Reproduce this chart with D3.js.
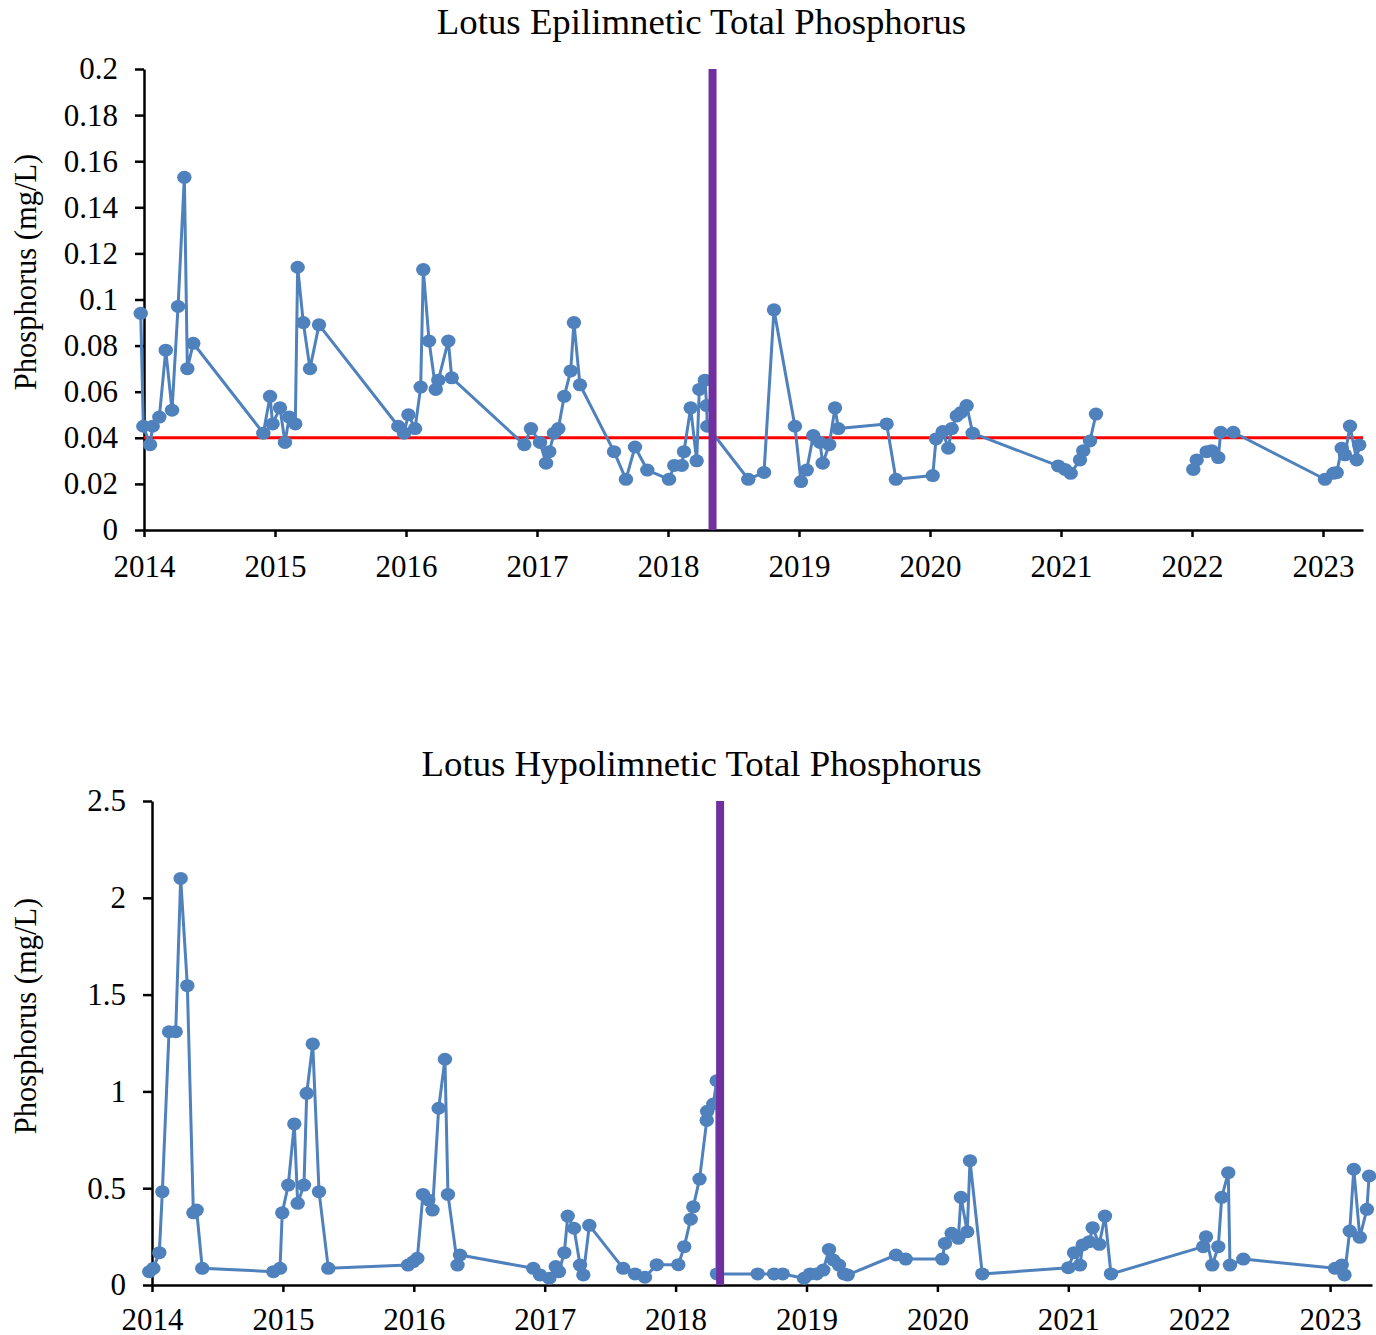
<!DOCTYPE html>
<html>
<head>
<meta charset="utf-8">
<script src="https://cdn.jsdelivr.net/npm/d3@7"></script>
<style>
  body { margin: 0; background: #fff; }
  svg text { font-family: "Liberation Serif", "Times New Roman", serif; fill: #000; }
</style>
</head>
<body>
<svg id="chart" width="1376" height="1335"></svg>
<script>
// Sample dates are decimal years; a null value breaks the line (no samples).
const epiDates = [
  2013.975, 2013.995, 2014.046, 2014.066, 2014.117, 2014.166, 2014.214, 2014.260, 2014.308, 2014.331, 2014.376,
  2014.911, 2014.962, 2014.982, 2015.038, 2015.076, 2015.109, 2015.155, 2015.173, 2015.216, 2015.267, 2015.336,
  2015.941, 2015.985, 2016.018, 2016.069, 2016.112, 2016.132, 2016.176, 2016.227, 2016.247, 2016.323, 2016.349,
  2016.903, 2016.954, 2017.023, 2017.069, 2017.094, 2017.130, 2017.163, 2017.208, 2017.257, 2017.282, 2017.328,
  2017.588, 2017.679, 2017.748, 2017.842, 2018.008, 2018.048, 2018.105, 2018.122, 2018.173, 2018.219, 2018.239,
  2018.282, 2018.295, 2018.300,
  2018.613, 2018.733, 2018.809, 2018.969, 2019.015, 2019.059, 2019.109, 2019.160, 2019.181, 2019.231, 2019.275, 2019.300,
  2019.669, 2019.740, 2020.021, 2020.046, 2020.097, 2020.140, 2020.166, 2020.204, 2020.237, 2020.280, 2020.326,
  2020.979, 2021.031, 2021.074, 2021.145, 2021.170, 2021.221, 2021.267,
  2021.600,
  2022.010, 2022.036, 2022.112, 2022.150, 2022.201, 2022.219, 2022.315,
  2023.015, 2023.079, 2023.105, 2023.143, 2023.168, 2023.206, 2023.257, 2023.277
];
const epiTP = [
  0.094, 0.045, 0.037, 0.045, 0.049, 0.078, 0.052, 0.097, 0.153, 0.070, 0.081,
  0.042, 0.058, 0.046, 0.053, 0.038, 0.049, 0.046, 0.114, 0.090, 0.070, 0.089,
  0.045, 0.042, 0.050, 0.044, 0.062, 0.113, 0.082, 0.061, 0.065, 0.082, 0.066,
  0.037, 0.044, 0.038, 0.029, 0.034, 0.042, 0.044, 0.058, 0.069, 0.090, 0.063,
  0.034, 0.022, 0.036, 0.026, 0.022, 0.028, 0.028, 0.034, 0.053, 0.030, 0.061,
  0.065, 0.054, 0.045,
  0.022, 0.025, 0.0955, 0.045, 0.021, 0.026, 0.041, 0.038, 0.029, 0.037, 0.053, 0.044,
  0.046, 0.022, 0.0236, 0.0395, 0.0427, 0.0355, 0.044, 0.0495, 0.051, 0.054, 0.042,
  0.0278, 0.0263, 0.0246, 0.0304, 0.0344, 0.0386, 0.0503,
  null,
  0.0263, 0.0304, 0.034, 0.0344, 0.0314, 0.0424, 0.0424,
  0.022, 0.0246, 0.0249, 0.0355, 0.0326, 0.0451, 0.0304, 0.0369
];

const hypoDates = [
  2013.979, 2014.010, 2014.056, 2014.079, 2014.130, 2014.181, 2014.219, 2014.270, 2014.316, 2014.341, 2014.384,
  2014.927, 2014.978, 2014.995, 2015.041, 2015.087, 2015.113, 2015.161, 2015.182, 2015.228, 2015.276, 2015.347,
  2015.956, 2015.996, 2016.027, 2016.070, 2016.111, 2016.143, 2016.190, 2016.238, 2016.261, 2016.334, 2016.353,
  2016.913, 2016.964, 2017.035, 2017.084, 2017.109, 2017.150, 2017.176, 2017.224, 2017.270, 2017.295, 2017.341,
  2017.600, 2017.690, 2017.766, 2017.856, 2018.021, 2018.066, 2018.115, 2018.135, 2018.183, 2018.238, 2018.241,
  2018.288, 2018.314, 2018.316,
  2018.627, 2018.752, 2018.818, 2018.981, 2019.027, 2019.078, 2019.128, 2019.172, 2019.205, 2019.248, 2019.287, 2019.315,
  2019.684, 2019.758, 2020.037, 2020.058, 2020.109, 2020.160, 2020.180, 2020.228, 2020.249, 2020.343,
  2021.000, 2021.044, 2021.089, 2021.110, 2021.160, 2021.186, 2021.237, 2021.280, 2021.326,
  2022.031, 2022.052, 2022.100, 2022.146, 2022.172, 2022.222, 2022.235, 2022.337,
  2023.038, 2023.089, 2023.110, 2023.150, 2023.181, 2023.227, 2023.281, 2023.298
];
const hypoTP = [
  0.069, 0.086, 0.167, 0.482, 1.308, 1.308, 2.10, 1.546, 0.373, 0.387, 0.086,
  0.069, 0.086, 0.373, 0.516, 0.832, 0.422, 0.516, 0.990, 1.245, 0.482, 0.086,
  0.103, 0.120, 0.138, 0.468, 0.439, 0.387, 0.913, 1.166, 0.468, 0.103, 0.155,
  0.086, 0.052, 0.035, 0.095, 0.069, 0.167, 0.356, 0.293, 0.103, 0.052, 0.308,
  0.086, 0.057, 0.040, 0.105, 0.105, 0.198, 0.340, 0.404, 0.547, 0.850, 0.897,
  0.935, 1.055, 0.057,
  0.057, 0.057, 0.057, 0.035, 0.057, 0.057, 0.077, 0.184, 0.129, 0.103, 0.057, 0.052,
  0.155, 0.134, 0.134, 0.215, 0.267, 0.241, 0.453, 0.275, 0.642, 0.057,
  0.089, 0.167, 0.103, 0.207, 0.224, 0.296, 0.210, 0.356, 0.057,
  0.198, 0.249, 0.103, 0.198, 0.453, 0.580, 0.103, 0.134,
  0.086, 0.103, 0.052, 0.279, 0.598, 0.246, 0.391, 0.563
];

const yearTicks = [2014, 2015, 2016, 2017, 2018, 2019, 2020, 2021, 2022, 2023];
const epiTicks = [0, 0.02, 0.04, 0.06, 0.08, 0.1, 0.12, 0.14, 0.16, 0.18, 0.2];
const hypoTicks = [0, 0.5, 1, 1.5, 2, 2.5];
const epiCriterion = 0.04;     // red reference line, top panel only
const treatmentDate = 2018.34; // purple marker line

const BLUE = "#4F81BD";
const PURPLE = "#7030A0";

const svg = d3.select("#chart");

function drawPanel(p) {
  const x = d3.scaleLinear().domain([2014, p.xMax]).range([p.left, p.right]);
  const y = d3.scaleLinear().domain([0, p.yMax]).range([p.bottom, p.top]);
  const g = svg.append("g");
  const fmt = v => String(+v.toFixed(2));

  g.append("text")
    .attr("x", 701.5).attr("y", p.titleY)
    .attr("text-anchor", "middle")
    .attr("font-size", 36.8)
    .text(p.title);

  g.append("text")
    .attr("transform", `translate(36,${p.labelY}) rotate(-90)`)
    .attr("text-anchor", "middle")
    .attr("font-size", 30.5)
    .text("Phosphorus (mg/L)");

  const yAxis = g.append("g")
    .attr("transform", `translate(${p.left},0)`)
    .call(d3.axisLeft(y).tickValues(p.yTicks).tickFormat(fmt).tickSize(9).tickSizeOuter(0).tickPadding(17));

  const xAxis = g.append("g")
    .attr("transform", `translate(0,${p.bottom})`)
    .call(d3.axisBottom(x).tickValues(yearTicks).tickFormat(d3.format("d")).tickSize(7).tickSizeOuter(0).tickPadding(p.xPad));

  [yAxis, xAxis].forEach(a => {
    a.attr("font-family", null).attr("font-size", 31);
    a.selectAll("path, line").attr("stroke", "#000").attr("stroke-width", 2.5);
  });

  if (p.criterion != null) {
    g.append("line")
      .attr("x1", p.left).attr("x2", p.right)
      .attr("y1", y(p.criterion)).attr("y2", y(p.criterion))
      .attr("stroke", "#FF0000").attr("stroke-width", 3);
  }

  const pts = p.dates.map((d, i) => ({ d, v: p.values[i] }));
  const line = d3.line()
    .defined(e => e.v != null)
    .x(e => x(e.d)).y(e => y(e.v));

  g.append("path")
    .datum(pts)
    .attr("fill", "none")
    .attr("stroke", BLUE)
    .attr("stroke-width", 3)
    .attr("stroke-linejoin", "round")
    .attr("d", line);

  g.selectAll("ellipse.pt")
    .data(pts.filter(e => e.v != null))
    .join("ellipse")
    .attr("class", "pt")
    .attr("cx", e => x(e.d)).attr("cy", e => y(e.v))
    .attr("rx", 7.2).attr("ry", 6.5)
    .attr("fill", BLUE);

  g.append("line")
    .attr("x1", x(treatmentDate)).attr("x2", x(treatmentDate))
    .attr("y1", p.top).attr("y2", p.bottom)
    .attr("stroke", PURPLE).attr("stroke-width", 8);
}

drawPanel({
  title: "Lotus Epilimnetic Total Phosphorus",
  dates: epiDates, values: epiTP, yTicks: epiTicks, yMax: 0.2, criterion: epiCriterion,
  left: 144, right: 1363, top: 69, bottom: 530, xMax: 2014 + (1363 - 144) / 131,
  titleY: 34, labelY: 272, xPad: 18
});

drawPanel({
  title: "Lotus Hypolimnetic Total Phosphorus",
  dates: hypoDates, values: hypoTP, yTicks: hypoTicks, yMax: 2.5, criterion: null,
  left: 152, right: 1372, top: 801, bottom: 1285, xMax: 2014 + (1372 - 152) / 130.9,
  titleY: 776, labelY: 1016, xPad: 16
});
</script>
</body>
</html>
